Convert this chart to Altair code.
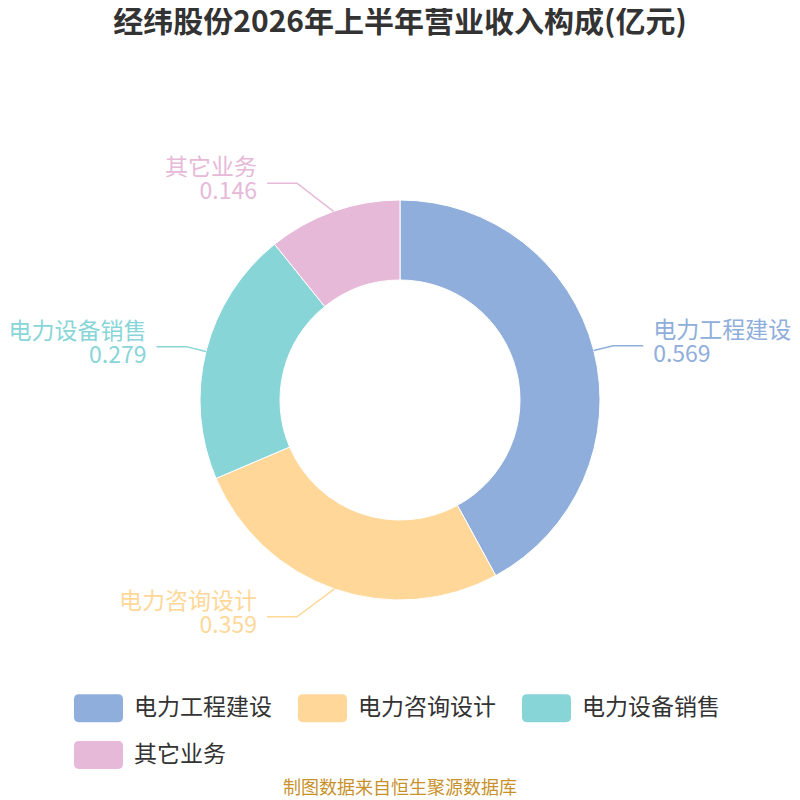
import math
import altair as alt
import pandas as pd

# ---- data ----
cats = ["电力工程建设", "电力咨询设计", "电力设备销售", "其它业务"]
vals = [0.569, 0.359, 0.279, 0.146]
colors = ["#8FAEDB", "#FFD899", "#88D5D8", "#E6B9D8"]
title_text = "经纬股份2026年上半年营业收入构成(亿元)"
source_text = "制图数据来自恒生聚源数据库"

FONT = "Noto Sans CJK SC"

# ---- layout ----
W = 784
T = 48                     # top of plot area (page px)
H = 2 * (400 - T)          # donut centre at page y=400
R_OUT, R_IN = 200, 120
L1, L2 = 20, 30            # leader line segment lengths
MIN_DX, R_ALT = 103, 240   # label push-out for near-vertical slices

total = sum(vals)
rows, lines = [], []
cum = 0.0
for i, (c, v) in enumerate(zip(cats, vals)):
    mid = (cum + v / 2) / total * 2 * math.pi
    cum += v
    s, co = math.sin(mid), math.cos(mid)
    side = 1 if s >= 0 else -1
    p0 = (R_OUT * s, R_OUT * co)
    ex, ey = (R_OUT + L1) * s, (R_OUT + L1) * co
    if abs(ex) < MIN_DX:
        ex = side * MIN_DX
        ey = (1 if co >= 0 else -1) * math.sqrt(R_ALT ** 2 - MIN_DX ** 2)
    p2 = (ex + side * L2, ey)
    for k, (px, py) in enumerate([p0, (ex, ey), p2]):
        lines.append({"cat": c, "pt": k, "x": px, "y": py})
    rows.append({"cat": c, "label": f"{c}\n{v}", "x": p2[0], "y": p2[1],
                 "side": "right" if side > 0 else "left"})

df = pd.DataFrame({"cat": cats, "val": vals, "idx": list(range(len(cats)))})
lines_df = pd.DataFrame(lines)
lab_df = pd.DataFrame(rows)

def cscale():
    return alt.Scale(domain=cats, range=colors)

xs = alt.Scale(domain=[-W / 2, W / 2], nice=False, zero=False)
ys = alt.Scale(domain=[-H / 2, H / 2], nice=False, zero=False)

rr = ("M-0.8,-0.571 L0.8,-0.571 Q1,-0.571 1,-0.371 L1,0.371 Q1,0.571 0.8,0.571 "
      "L-0.8,0.571 Q-1,0.571 -1,0.371 L-1,-0.371 Q-1,-0.571 -0.8,-0.571 Z")

arc = alt.Chart(df).mark_arc(outerRadius=R_OUT, innerRadius=R_IN, stroke="white",
                             strokeWidth=1).encode(
    theta=alt.Theta("val:Q", stack=True),
    color=alt.Color("cat:N", scale=cscale(),
                    legend=alt.Legend(title=None, orient="none", legendX=66, legendY=683.5 - T,
                                      direction="horizontal", values=cats,
                                      columns=3, columnPadding=26, rowPadding=8,
                                      symbolType=rr, symbolSize=2401, symbolStrokeWidth=0,
                                      symbolOpacity=1, labelFontSize=23, labelFont=FONT,
                                      labelColor="#333333", labelOffset=11, labelLimit=300)),
    order=alt.Order("idx:Q"),
)

leader = alt.Chart(lines_df).mark_line(strokeWidth=1.5).encode(
    x=alt.X("x:Q", scale=xs, axis=None),
    y=alt.Y("y:Q", scale=ys, axis=None),
    color=alt.Color("cat:N", scale=cscale(), legend=None),
    detail="cat:N",
    order="pt:Q",
)

def label_layer(side, align, dx):
    return alt.Chart(lab_df).transform_filter(alt.datum.side == side).mark_text(
        align=align, baseline="middle", dx=dx, dy=-15, fontSize=23, font=FONT,
        lineBreak="\n", lineHeight=24,
    ).encode(
        x=alt.X("x:Q", scale=xs, axis=None),
        y=alt.Y("y:Q", scale=ys, axis=None),
        text="label:N",
        color=alt.Color("cat:N", scale=cscale(), legend=None),
    )

src = alt.Chart(pd.DataFrame({"t": [source_text]})).mark_text(
    fontSize=18, font=FONT, color="#C8912B", baseline="middle", align="center"
).encode(text="t:N", x=alt.value(W / 2), y=alt.value(789 - T))

chart = alt.layer(arc, leader, label_layer("right", "left", 10),
                  label_layer("left", "right", -10), src).resolve_scale(
    color="independent"
).properties(
    width=W, height=H, padding=0,
    title=alt.Title(title_text, fontSize=30, fontWeight="bold", color="#333333",
                    font=FONT, anchor="middle", offset=10),
).configure_view(stroke=None)

chart.save("out.html", embed_options={"renderer": "svg", "actions": False})
